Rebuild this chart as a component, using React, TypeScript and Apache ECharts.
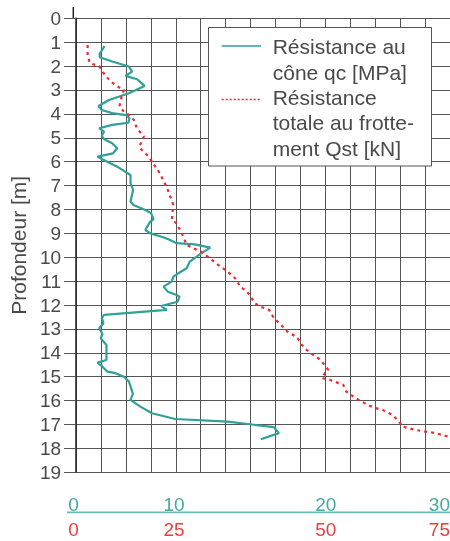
import React, { useEffect, useRef } from "react";
import * as echarts from "echarts";

// Résistance au cône qc [MPa] : [qc, depth m]
const qcSeries: [number, number][] = [
  [2.28, 1.16], [2.1, 1.33], [1.9, 1.47], [1.9, 1.63], [2.9, 1.81], [4.24, 2.02], [4.5, 2.23],
  [3.97, 2.41], [4.9, 2.55], [5.5, 2.83], [4.24, 3.14], [2.65, 3.42], [1.8, 3.67], [2.06, 3.84],
  [2.9, 3.97], [4.0, 4.05], [4.29, 4.18], [4.2, 4.37], [2.9, 4.46], [1.86, 4.6], [2.25, 4.74],
  [2.06, 4.92], [2.25, 5.06], [2.9, 5.23], [3.3, 5.44], [2.97, 5.65], [1.72, 5.79], [2.1, 5.9],
  [3.3, 6.21], [4.37, 6.56], [4.37, 6.9], [4.58, 7.18], [4.37, 7.67], [4.6, 7.81], [5.56, 8.02],
  [6.03, 8.16], [6.22, 8.41], [5.95, 8.51], [5.56, 8.86], [5.95, 9.0], [6.88, 9.14], [7.41, 9.25],
  [8.07, 9.41], [9.52, 9.46], [10.77, 9.6], [10.06, 9.83], [9.13, 10.18], [8.87, 10.46],
  [8.21, 10.67], [7.81, 10.81], [7.67, 11.02], [7.02, 11.23], [7.36, 11.44], [8.07, 11.58],
  [8.3, 11.65], [8.15, 11.86], [6.83, 12.04], [7.28, 12.2], [2.25, 12.41], [2.06, 12.55],
  [2.2, 12.76], [1.86, 12.97], [2.12, 13.21], [1.98, 13.39], [2.44, 13.67], [2.44, 14.3],
  [1.72, 14.41], [2.12, 14.58], [2.52, 14.79], [3.17, 14.85], [3.84, 15.0], [4.24, 15.2],
  [4.42, 15.48], [4.56, 15.72], [4.37, 15.97], [5.16, 16.25], [6.09, 16.53], [7.94, 16.77],
  [12.17, 16.88], [15.87, 17.11], [16.27, 17.36], [14.82, 17.62],
];

// Résistance totale au frottement Qst [kN] : [Qst, depth m]
const qstSeries: [number, number][] = [
  [2.32, 1.12], [2.32, 1.54], [2.78, 1.88], [4.64, 2.0], [5.3, 2.23], [6.94, 2.65], [8.6, 2.89],
  [9.6, 3.0], [9.13, 3.28], [8.73, 3.67], [9.6, 3.91], [10.6, 4.05], [11.6, 4.26], [12.2, 4.6],
  [13.6, 4.95], [12.7, 5.37], [13.2, 5.51], [14.6, 5.79], [15.2, 6.0], [16.4, 6.35], [17.5, 6.77],
  [18.4, 7.18], [19.5, 7.81], [19.2, 8.44], [20.2, 8.58], [21.2, 9.0], [22.2, 9.49], [23.5, 9.62],
  [25.1, 9.77], [26.8, 10.04], [28.5, 10.32], [30.4, 10.6], [32.1, 10.92], [32.9, 11.23],
  [34.1, 11.4], [35.1, 11.65], [35.7, 11.9], [37, 12.07], [38.7, 12.2], [39.7, 12.55],
  [41.3, 12.87], [42.3, 13.1], [44.3, 13.35], [45.3, 13.67], [46.6, 13.95], [48.6, 14.23],
  [49.9, 14.51], [50.6, 14.72], [49.9, 14.85], [49.3, 15.06], [50.9, 15.13], [53.6, 15.34],
  [54.2, 15.62], [55.6, 15.83], [56.9, 16.0], [59.5, 16.28], [61.5, 16.39], [63.5, 16.6],
  [64.8, 16.88], [65.5, 17.09], [68.1, 17.23], [72.1, 17.36], [74.7, 17.51],
];

const qcTickLabels = ["0", "10", "20", "30"];
const qstTickLabels = ["0", "25", "50", "75"];
const legendNames = ["Résistance au\ncône qc [MPa]", "Résistance\ntotale au frotte-\nment Qst [kN]"];
const yAxisName = "Profondeur [m]";

const TEAL = "#30a098";
const RED = "#ee2a2e";
const FONT = "Liberation Sans";
const TXT = "#4a4a4a";

export default function App() {
  const ref = useRef<HTMLDivElement>(null);
  useEffect(() => {
    if (!ref.current) return;
    const chart = echarts.init(ref.current, null, { renderer: "svg" });
    const labelX = [73.5, 174, 325.7, 450];
    const labelAlign = ["center", "center", "center", "right"];
    const bottomTexts: any[] = [];
    qcTickLabels.forEach((t, i) =>
      bottomTexts.push({
        type: "text", x: labelX[i], y: 504,
        style: { text: t, fill: "#45a8a1", font: `19px "${FONT}"`, textAlign: labelAlign[i], textVerticalAlign: "middle" },
      })
    );
    qstTickLabels.forEach((t, i) =>
      bottomTexts.push({
        type: "text", x: labelX[i], y: 529,
        style: { text: t, fill: "#e8403f", font: `19px "${FONT}"`, textAlign: labelAlign[i], textVerticalAlign: "middle" },
      })
    );
    chart.setOption({
      animation: false,
      grid: { left: 73.3, top: 18.3, width: 378, height: 454, containLabel: false },
      xAxis: [
        {
          type: "value", min: 0, max: 30, interval: 2, position: "top",
          axisLine: { show: false }, axisTick: { show: false }, axisLabel: { show: false },
          splitLine: { show: true, lineStyle: { color: "#555", width: 1 } },
        },
        {
          type: "value", min: 0, max: 75, interval: 5, show: false,
          splitLine: { show: false },
        },
      ],
      yAxis: {
        type: "value", inverse: true, min: 0, max: 19, interval: 1,
        name: yAxisName, nameLocation: "middle", nameGap: 38, nameRotate: 90,
        nameTextStyle: { fontFamily: FONT, fontSize: 21, color: TXT },
        axisLine: { show: true, lineStyle: { color: "#222", width: 1.5 } },
        axisTick: { show: true, length: 12, lineStyle: { color: "#555", width: 1 } },
        axisLabel: { margin: 15, fontFamily: FONT, fontSize: 19, color: TXT },
        splitLine: { show: true, lineStyle: { color: "#555", width: 1 } },
      },
      series: [
        {
          type: "line", name: "qc", xAxisIndex: 0, yAxisIndex: 0, data: qcSeries,
          showSymbol: false, symbol: "none",
          lineStyle: { color: TEAL, width: 2.2 },
        },
        {
          type: "line", name: "Qst", xAxisIndex: 1, yAxisIndex: 0, data: qstSeries,
          showSymbol: false, symbol: "none",
          lineStyle: { color: RED, width: 2.2, type: [3, 4] },
        },
      ],
      graphic: [
        { type: "line", shape: { x1: 73.3, y1: 7, x2: 73.3, y2: 18.3 }, style: { stroke: "#222", lineWidth: 1.5 } },
        {
          type: "rect", shape: { x: 208.5, y: 27.5, width: 223, height: 138.5 },
          style: { fill: "#fff", stroke: "#555", lineWidth: 1 }, z: 10,
        },
        { type: "line", shape: { x1: 221.7, y1: 46, x2: 261, y2: 46 }, style: { stroke: TEAL, lineWidth: 1.5 }, z: 11 },
        { type: "line", shape: { x1: 221.7, y1: 99.5, x2: 261, y2: 99.5 }, style: { stroke: RED, lineWidth: 1.5, lineDash: [2, 2] }, z: 11 },
        {
          type: "text", x: 272.7, y: 34, z: 11,
          style: {
            text: legendNames.join("\n"), fill: TXT, font: `21px "${FONT}"`, lineHeight: 25.4,
            textAlign: "left", textVerticalAlign: "top",
          },
        },
        { type: "line", shape: { x1: 67, y1: 512.3, x2: 450, y2: 512.3 }, style: { stroke: "#6dbbb5", lineWidth: 1.8 } },
        ...bottomTexts,
      ],
    });
    return () => chart.dispose();
  }, []);
  return <div ref={ref} style={{ position: "fixed", left: 0, top: 0, width: 450, height: 541 }} />;
}
